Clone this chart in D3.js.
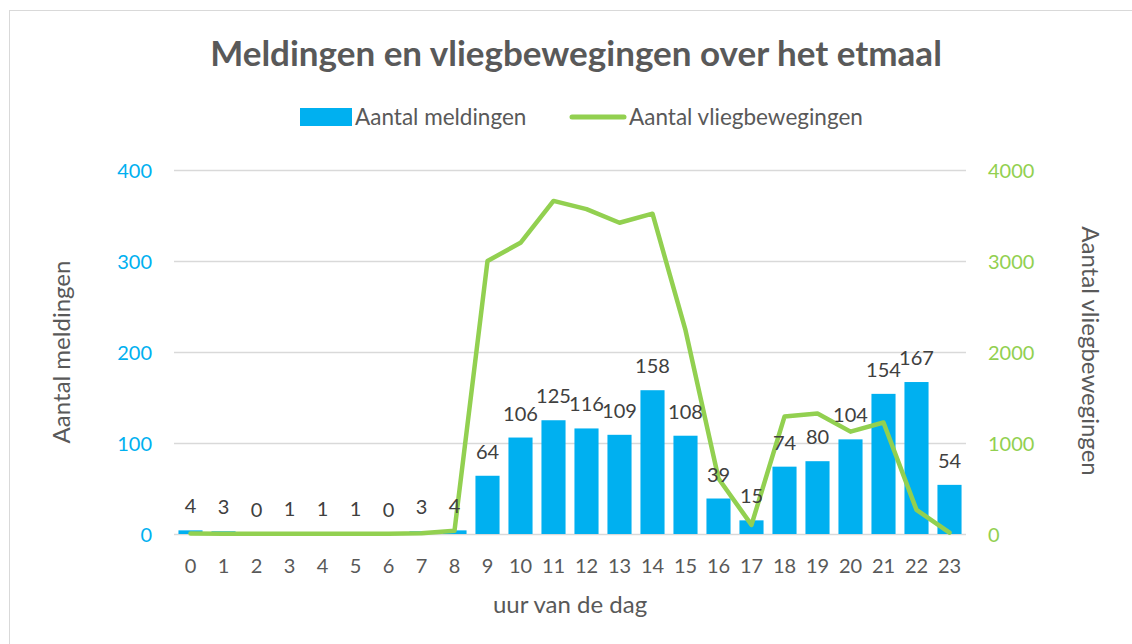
<!DOCTYPE html>
<html lang="nl">
<head>
<meta charset="UTF-8" />
<title>Meldingen en vliegbewegingen over het etmaal</title>
<script src="https://d3js.org/d3.v7.min.js"></script>
<style>
  body { margin: 0; background: #fff; }
  svg { display: block; }
  text { font-family: Lato, "Open Sans", sans-serif; }
  .tick-l { fill: #00b0f0; font-size: 20px; }
  .tick-r { fill: #92d050; font-size: 20px; }
  .tick-x { fill: #595959; font-size: 20px; }
  .axis-title { fill: #595959; font-size: 24px; }
  .data-label { fill: #404040; font-size: 20px; text-anchor: middle; }
</style>
</head>
<body>
<svg id="chart" width="1132" height="644"></svg>
<script>
const hours = ["0","1","2","3","4","5","6","7","8","9","10","11","12","13","14","15","16","17","18","19","20","21","22","23"];
const meldingen = [4, 3, 0, 1, 1, 1, 0, 3, 4, 64, 106, 125, 116, 109, 158, 108, 39, 15, 74, 80, 104, 154, 167, 54];
const vliegbewegingen = [5, 3, 2, 2, 2, 3, 3, 8, 36, 3000, 3200, 3660, 3570, 3420, 3520, 2240, 610, 100, 1290, 1325, 1125, 1225, 265, 15];
const leftTicks = [0, 100, 200, 300, 400];
const rightTicks = [0, 1000, 2000, 3000, 4000];

const svg = d3.select("#chart");
const plot = { left: 174, right: 966, top: 170, bottom: 534 };

// chart frame
svg.append("rect")
  .attr("x", 9.5).attr("y", 10.5)
  .attr("width", 1140).attr("height", 650)
  .attr("fill", "#fff").attr("stroke", "#d9d9d9");

const x = d3.scaleBand().domain(hours).range([plot.left, plot.right]).paddingInner(0.27).paddingOuter(0.135);
const yL = d3.scaleLinear().domain([0, 400]).range([plot.bottom, plot.top]);
const yR = d3.scaleLinear().domain([0, 4000]).range([plot.bottom, plot.top]);

// gridlines
svg.append("g").selectAll("line").data(leftTicks).join("line")
  .attr("x1", plot.left).attr("x2", plot.right)
  .attr("y1", d => Math.round(yL(d)) + 0.5).attr("y2", d => Math.round(yL(d)) + 0.5)
  .attr("stroke", "#d9d9d9").attr("stroke-width", 1.5);

// axes
const axL = svg.append("g").attr("transform", `translate(${plot.left - 22},0)`)
  .call(d3.axisLeft(yL).tickValues(leftTicks).tickSize(0).tickPadding(0));
axL.select(".domain").remove();
axL.selectAll("text").attr("class", "tick-l").attr("font-family", null).attr("font-size", null).attr("dy", "0.35em");

const axR = svg.append("g").attr("transform", `translate(${plot.right + 22},0)`)
  .call(d3.axisRight(yR).tickValues(rightTicks).tickFormat(d3.format("d")).tickSize(0).tickPadding(0));
axR.select(".domain").remove();
axR.selectAll("text").attr("class", "tick-r").attr("font-family", null).attr("font-size", null).attr("dy", "0.35em");

const axX = svg.append("g").attr("transform", `translate(0,${plot.bottom + 19})`)
  .call(d3.axisBottom(x).tickSize(0).tickPadding(0));
axX.select(".domain").remove();
axX.selectAll("text").attr("class", "tick-x").attr("font-family", null).attr("font-size", null).attr("dy", "1em");

// bars
svg.append("g").selectAll("rect").data(meldingen).join("rect")
  .attr("x", (d, i) => x(hours[i]))
  .attr("width", x.bandwidth())
  .attr("y", d => yL(d))
  .attr("height", d => yL(0) - yL(d))
  .attr("fill", "#00b0f0");

// line
const line = d3.line().x((d, i) => x(hours[i]) + x.bandwidth() / 2).y(d => yR(d));
svg.append("path").datum(vliegbewegingen)
  .attr("d", line)
  .attr("fill", "none").attr("stroke", "#92d050")
  .attr("stroke-width", 4.5).attr("stroke-linejoin", "round").attr("stroke-linecap", "round");

// data labels
svg.append("g").selectAll("text").data(meldingen).join("text")
  .attr("class", "data-label")
  .attr("x", (d, i) => x(hours[i]) + x.bandwidth() / 2)
  .attr("y", d => yL(d) - 17)
  .text(d => d);

// title
svg.append("text")
  .attr("x", 576).attr("y", 66).attr("text-anchor", "middle")
  .attr("fill", "#595959").attr("font-size", 35).attr("font-weight", "bold")
  .text("Meldingen en vliegbewegingen over het etmaal");

// legend
const lg = svg.append("g");
lg.append("rect").attr("x", 300).attr("y", 108).attr("width", 52).attr("height", 18).attr("fill", "#00b0f0");
lg.append("text").attr("x", 355).attr("y", 125).attr("fill", "#595959").attr("font-size", 22.5).text("Aantal meldingen");
lg.append("line").attr("x1", 572).attr("x2", 624).attr("y1", 117).attr("y2", 117)
  .attr("stroke", "#92d050").attr("stroke-width", 5).attr("stroke-linecap", "round");
lg.append("text").attr("x", 629).attr("y", 125).attr("fill", "#595959").attr("font-size", 22.5).text("Aantal vliegbewegingen");

// axis titles
svg.append("text").attr("class", "axis-title")
  .attr("transform", "translate(62,352) rotate(-90)")
  .attr("text-anchor", "middle").attr("dy", "0.35em")
  .text("Aantal meldingen");
svg.append("text").attr("class", "axis-title")
  .attr("transform", "translate(1090,351) rotate(90)")
  .attr("text-anchor", "middle").attr("dy", "0.35em")
  .text("Aantal vliegbewegingen");
svg.append("text").attr("class", "axis-title")
  .attr("x", 570).attr("y", 613).attr("text-anchor", "middle")
  .text("uur van de dag");
</script>
</body>
</html>
